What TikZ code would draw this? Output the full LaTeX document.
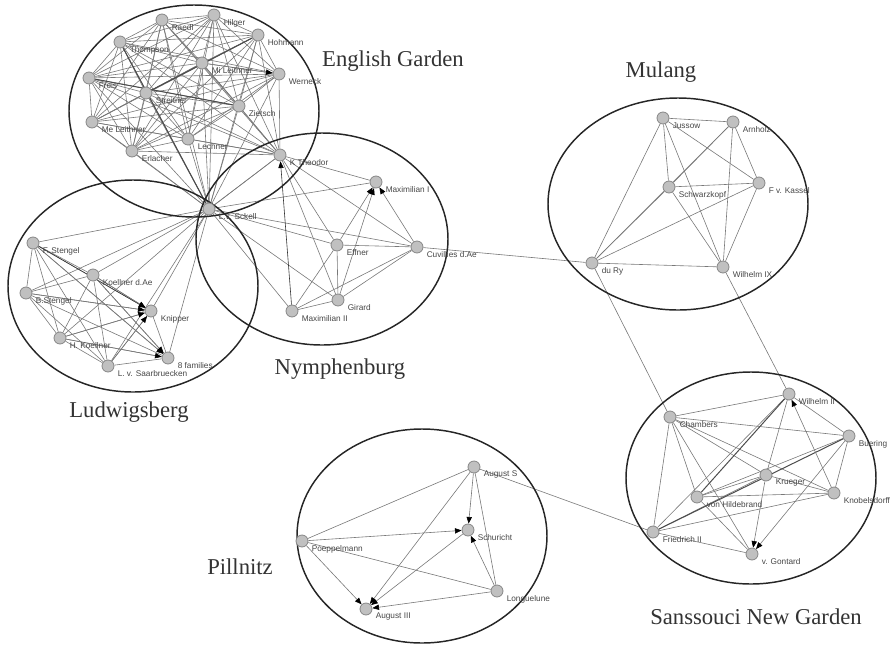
\documentclass[tikz,border=0pt]{standalone}
\usepackage{fontspec}
\setmainfont{Liberation Serif}
\newfontfamily\lblfont{Liberation Sans}
\usetikzlibrary{arrows.meta}
\pgfdeclarelayer{background}
\pgfsetlayers{background,main}
\definecolor{nodefill}{RGB}{192,192,192}
\definecolor{nodeedge}{RGB}{135,135,135}
\definecolor{linkgray}{RGB}{120,120,120}
\definecolor{lblgray}{RGB}{70,70,70}
\tikzset{every picture/.style={line width=0.75pt},
  person/.style={circle, fill=nodefill, draw=nodeedge, line width=0.6pt, minimum size=9pt, inner sep=0pt,
    label={[lblstyle]-45:#1}},
  lblstyle/.style={anchor=west, inner sep=1pt, label distance=3.6pt, text=lblgray,
    font=\lblfont\fontsize{6.2}{7}\selectfont},
  link/.style={draw=linkgray, line width=0.45pt},
  boldlink/.style={draw=black!70, line width=0.75pt},
  arr/.style={link, -{Triangle[length=5pt,width=4pt,black]}},
  garden/.style={draw=black!85, line width=1.1pt},
  gardentitle/.style={font=\fontsize{17}{19}\selectfont, text=black!80}
}

\begin{document}
\begin{tikzpicture}[x=0.75pt,y=0.75pt,yscale=-1,xscale=1]
\useasboundingbox (0,0) rectangle (894,647);

% English Garden
\node[person=Raedl] (raedl) at (162,20) {};
\node[person=Hilger] (hilger) at (214,15) {};
\node[person=Hohmann] (hohmann) at (258,35) {};
\node[person=Thompson] (thompson) at (120,42) {};
\node[person=Mi Leithner] (mileithner) at (202,63) {};
\node[person=Werneck] (werneck) at (279,74) {};
\node[person=Freis] (freis) at (89,78) {};
\node[person=Streitner] (streitner) at (146,93) {};
\node[person=Zietsch] (zietsch) at (239,106) {};
\node[person=Me Leithner] (meleithner) at (92,122) {};
\node[person=Lechner] (lechner) at (188,139) {};
\node[person=Erlacher] (erlacher) at (132,151) {};
\node[person=K Theodor] (ktheodor) at (280,155) {};
\node[person=L.v. Sckell] (sckell) at (209,209) {};

% Ludwigsberg
\node[person=F. Stengel] (fstengel) at (33,243) {};
\node[person=Koellner d.Ae] (koellner) at (93,275) {};
\node[person=B.Stengel] (bstengel) at (26,293) {};
\node[person=Knipper] (knipper) at (151,311) {};
\node[person=H. Koellner] (hkoellner) at (60,338) {};
\node[person=L. v. Saarbruecken] (saarbruecken) at (108,366) {};
\node[person=8 families] (families) at (168,358) {};

% Nymphenburg
\node[person=Maximilian I] (maxi) at (376,182) {};
\node[person=Effner] (effner) at (337,245) {};
\node[person=Cuvillies d.Ae] (cuvillies) at (417,247) {};
\node[person=Girard] (girard) at (338,300) {};
\node[person=Maximilian II] (maxii) at (292,311) {};

% Mulang
\node[person=Jussow] (jussow) at (663,118) {};
\node[person=Arnholz] (arnholz) at (733,122) {};
\node[person=Schwarzkopf] (schwarzkopf) at (669,187) {};
\node[person=F v. Kassel] (fvkassel) at (759,183) {};
\node[person=du Ry] (dury) at (592,263) {};
\node[person=Wilhelm IX] (wilhelmix) at (723,267) {};

% Sanssouci New Garden
\node[person=Wilhelm II] (wilhelmii) at (789,394) {};
\node[person=Chambers] (chambers) at (670,417) {};
\node[person=Buering] (buering) at (849,436) {};
\node[person=Krueger] (krueger) at (766,475) {};
\node[person=Knobelsdorff] (knobelsdorff) at (834,493) {};
\node[person=von Hildebrand] (hildebrand) at (697,497) {};
\node[person=Friedrich II] (friedrich) at (653,532) {};
\node[person=v. Gontard] (gontard) at (752,554) {};

% Pillnitz
\node[person=August S] (augusts) at (474,467) {};
\node[person=Schuricht] (schuricht) at (468,530) {};
\node[person=Poeppelmann] (poeppelmann) at (302,541) {};
\node[person=Longuelune] (longuelune) at (497,591) {};
\node[person=August III] (augustiii) at (366,609) {};

\begin{pgfonlayer}{background}
% dense mesh of the English Garden
\foreach \a [count=\i] in {raedl,hilger,hohmann,thompson,mileithner,werneck,freis,streitner,zietsch,meleithner,lechner,erlacher,ktheodor,sckell}
  \foreach \b [count=\j] in {raedl,hilger,hohmann,thompson,mileithner,werneck,freis,streitner,zietsch,meleithner,lechner,erlacher,ktheodor,sckell}
    {\ifnum\j>\i \draw[link] (\a) -- (\b);\fi}
\draw[boldlink] (hohmann) -- (streitner);
\draw[boldlink] (thompson) -- (sckell);
\draw[boldlink] (freis) -- (zietsch);
\draw[arr] (mileithner) -- (werneck);

% Ludwigsberg
\foreach \a [count=\i] in {fstengel,koellner,bstengel,knipper,hkoellner,saarbruecken,families,sckell}
  \foreach \b [count=\j] in {fstengel,koellner,bstengel,knipper,hkoellner,saarbruecken,families,sckell}
    {\ifnum\j>\i \draw[link] (\a) -- (\b);\fi}
\draw[arr,draw=black!80] (fstengel) -- (knipper);
\foreach \a in {koellner,bstengel,hkoellner,saarbruecken}
  \draw[arr] (\a) -- (knipper);
\foreach \a in {fstengel,koellner,hkoellner}
  \draw[arr] (\a) -- (families);

% Nymphenburg
\foreach \a/\b in {sckell/ktheodor,sckell/maxi,sckell/effner,sckell/cuvillies,sckell/girard,sckell/maxii,
    ktheodor/maxi,ktheodor/cuvillies,ktheodor/girard,ktheodor/effner,
    effner/cuvillies,effner/girard,effner/maxii,maxii/girard,maxii/cuvillies,girard/cuvillies}
  \draw[link] (\a) -- (\b);
\draw[arr,draw=black!80] (maxii) -- (ktheodor);
\foreach \a in {effner,girard,cuvillies}
  \draw[arr] (\a) -- (maxi);

% Mulang
\foreach \a [count=\i] in {jussow,arnholz,schwarzkopf,fvkassel,dury,wilhelmix}
  \foreach \b [count=\j] in {jussow,arnholz,schwarzkopf,fvkassel,dury,wilhelmix}
    {\ifnum\j>\i \draw[link] (\a) -- (\b);\fi}

% Sanssouci New Garden
\foreach \a/\b in {chambers/wilhelmii,chambers/buering,chambers/krueger,chambers/knobelsdorff,
    chambers/hildebrand,chambers/friedrich,chambers/gontard,wilhelmii/friedrich,wilhelmii/krueger,
    wilhelmii/buering,buering/hildebrand,buering/knobelsdorff,krueger/friedrich,krueger/hildebrand,
    krueger/knobelsdorff,hildebrand/knobelsdorff,hildebrand/gontard,friedrich/knobelsdorff,friedrich/gontard}
  \draw[link] (\a) -- (\b);
\draw[boldlink] (wilhelmii) -- (hildebrand);
\draw[boldlink] (buering) -- (friedrich);
\draw[arr] (knobelsdorff) -- (wilhelmii);
\draw[arr] (buering) -- (gontard);
\draw[arr] (krueger) -- (gontard);

% Pillnitz
\foreach \a/\b in {augusts/poeppelmann,augusts/longuelune,poeppelmann/longuelune}
  \draw[link] (\a) -- (\b);
\foreach \a/\b in {augusts/schuricht,augusts/augustiii,poeppelmann/schuricht,poeppelmann/augustiii,
    schuricht/augustiii,longuelune/schuricht,longuelune/augustiii}
  \draw[arr] (\a) -- (\b);

% links between the gardens
\draw[link] (cuvillies) -- (dury);
\draw[link] (dury) -- (chambers);
\draw[link] (wilhelmix) -- (wilhelmii);
\draw[link] (augusts) -- (friedrich);

% garden outlines
\draw[garden] (194,111) ellipse [x radius=125, y radius=106];
\draw[garden] (133,286) ellipse [x radius=125, y radius=106];
\draw[garden] (322,239) ellipse [x radius=126, y radius=106];
\draw[garden] (678,204) ellipse [x radius=130, y radius=106];
\draw[garden] (751,478) ellipse [x radius=125, y radius=106];
\draw[garden] (422,536) ellipse [x radius=125, y radius=107];
\end{pgfonlayer}

% Text Node
\node[gardentitle] (tenglish) at (393,61) {English Garden};
\node[gardentitle] (tmulang) at (661,72) {Mulang};
\node[gardentitle] (tnymph) at (340,369) {Nymphenburg};
\node[gardentitle] (tludwig) at (129,412) {Ludwigsberg};
\node[gardentitle] (tsans) at (756,617) {Sanssouci New Garden};
\node[gardentitle] (tpill) at (240,567) {Pillnitz};

\end{tikzpicture}
\end{document}
